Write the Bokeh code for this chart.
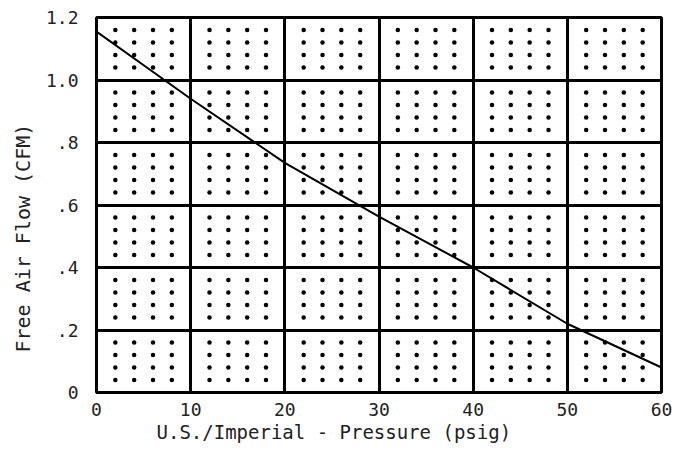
from bokeh.plotting import figure
from bokeh.models import FixedTicker, Range1d, Title
from bokeh.embed import file_html
from bokeh.resources import INLINE

# Curve data
pressure_psig = [0, 10, 20, 30, 40, 50, 60]
free_air_cfm = [1.155, 0.94, 0.735, 0.563, 0.40, 0.22, 0.08]

# Axis ticks and labels
x_ticks = [0, 10, 20, 30, 40, 50, 60]
y_ticks = [0, 0.2, 0.4, 0.6, 0.8, 1.0, 1.2]
y_tick_labels = ["0", ".2", ".4", ".6", ".8", "1.0", "1.2"]
x_title = "U.S./Imperial - Pressure (psig)"
y_title = "Free Air Flow (CFM)"

# Dotted background pattern: offsets inside each grid cell
dot_x_offsets = [2, 4, 6, 8]
dot_y_offsets = [0.04, 0.08, 0.12, 0.16]

dx, dy = [], []
for cx in x_ticks[:-1]:
    for cy in y_ticks[:-1]:
        for ox in dot_x_offsets:
            for oy in dot_y_offsets:
                dx.append(cx + ox)
                dy.append(round(cy + oy, 3))

FONT = "DejaVu Sans Mono"
TXT = "#222222"

p = figure(width=676, height=445, frame_width=565, frame_height=375,
           output_backend="svg", toolbar_location=None,
           x_range=Range1d(0, 60), y_range=Range1d(0, 1.2),
           min_border_left=96, min_border_right=15, min_border_top=17, min_border_bottom=53)

p.background_fill_color = "white"
p.border_fill_color = "white"
p.outline_line_color = "black"
p.outline_line_width = 3

p.xaxis.ticker = FixedTicker(ticks=x_ticks)
p.yaxis.ticker = FixedTicker(ticks=y_ticks)
p.yaxis.major_label_overrides = {t: l for t, l in zip(y_ticks, y_tick_labels)}

for ax in (p.xaxis[0], p.yaxis[0]):
    ax.axis_line_color = None
    ax.major_tick_line_color = None
    ax.minor_tick_line_color = None
    ax.major_label_text_font = FONT
    ax.major_label_text_font_size = "18px"
    ax.major_label_text_color = TXT

p.xaxis.major_label_standoff = 4
p.yaxis.major_label_standoff = 12

p.xgrid.ticker = FixedTicker(ticks=x_ticks)
p.ygrid.ticker = FixedTicker(ticks=y_ticks)
for g in (p.xgrid[0], p.ygrid[0]):
    g.grid_line_color = "black"
    g.grid_line_width = 3
    g.grid_line_alpha = 1.0
    g.level = "underlay"

p.scatter(dx, dy, size=4.5, color="black", line_color=None)
p.line(pressure_psig, free_air_cfm, line_color="black", line_width=2)

# Axis titles, offset from the centre as in the original
xt = Title(text=x_title, align="left", offset=60, standoff=0,
           text_font=FONT, text_font_size="19px", text_font_style="normal",
           text_color=TXT)
yt = Title(text=y_title, align="left", offset=40, standoff=16,
           text_font=FONT, text_font_size="20px", text_font_style="normal",
           text_color=TXT)
p.add_layout(xt, "below")
p.add_layout(yt, "left")

open("out.html", "w").write(file_html(p, INLINE))
